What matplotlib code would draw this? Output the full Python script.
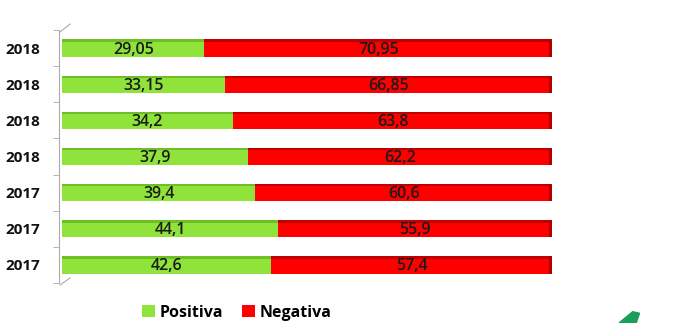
import numpy as np
import matplotlib.pyplot as plt
from matplotlib.patches import Polygon
from matplotlib.lines import Line2D

anni = ["2018", "2018", "2018", "2018", "2017", "2017", "2017"]
positiva = [29.05, 33.15, 34.2, 37.9, 39.4, 44.1, 42.6]
negativa = [70.95, 66.85, 63.8, 62.2, 60.6, 55.9, 57.4]
etich_pos = ["29,05", "33,15", "34,2", "37,9", "39,4", "44,1", "42,6"]
etich_neg = ["70,95", "66,85", "63,8", "62,2", "60,6", "55,9", "57,4"]

verde = "#8FE33B"
rosso = "#FF0000"

plt.rcParams["font.family"] = ["Open Sans", "DejaVu Sans"]

# grafico a barre in pila al 100%
pos = np.array(positiva)
neg = np.array(negativa)
tot = pos + neg
pos_pc = pos / tot * 100
neg_pc = neg / tot * 100

fig = plt.figure(figsize=(6.84, 3.23), dpi=100)
ax = fig.add_axes([0.0906, 0.124, 0.717, 0.783])

y = np.arange(len(anni))
h = 0.48
ax.barh(y, pos_pc, height=h, color=verde, label="Positiva")
ax.barh(y, neg_pc, left=pos_pc, height=h, color=rosso, label="Negativa")
# bordo superiore piu scuro (effetto 3d)
ax.barh(y - h / 2 + 0.035, pos_pc, height=0.07, color="#6DBF25")
ax.barh(y - h / 2 + 0.035, neg_pc, left=pos_pc, height=0.07, color="#C00000")
ax.barh(y, [0.6] * len(y), left=99.4, height=h, color="#B00000")

for i in range(len(anni)):
    ax.text(pos_pc[i] / 2, y[i] + 0.04, etich_pos[i], ha="center", va="center",
            fontsize=11.5, color="#1a1a1a", fontweight="semibold")
    ax.text(pos_pc[i] + neg_pc[i] / 2, y[i] + 0.04, etich_neg[i], ha="center",
            va="center", fontsize=11.5, color="#1a1a1a", fontweight="semibold")

for s in ["top", "right", "bottom"]:
    ax.spines[s].set_visible(False)
ax.spines["left"].set_color("#aaaaaa")
ax.spines["left"].set_position(("outward", 2))

ax.set_xlim(0, 100)
ax.set_ylim(len(anni) - 0.5, -0.5)
ax.set_xticks([])
ax.set_yticks(np.arange(-0.5, len(anni), 1), minor=True)
ax.tick_params(axis="y", which="major", length=0, pad=14)
ax.tick_params(axis="y", which="minor", length=4, color="#aaaaaa", direction="out")
ax.set_yticks(y)
ax.set_yticklabels(anni, fontweight="bold", fontsize=11, color="#111111")

# piccole diagonali prospettiche dell'asse
fig.add_artist(Line2D([60 / 684, 70 / 684], [1 - 32 / 323, 1 - 24 / 323], color="#aaaaaa", lw=0.8))
fig.add_artist(Line2D([60 / 684, 70 / 684], [1 - 285 / 323, 1 - 278 / 323], color="#aaaaaa", lw=0.8))

ax.legend(loc="upper center", bbox_to_anchor=(0.357, -0.03), ncol=2, frameon=False,
          prop={"weight": "bold", "size": 11.5}, handlelength=0.8, handleheight=0.8,
          handletextpad=0.3, columnspacing=1.2)

# frammento di freccia verde in basso a destra
fig.patches.append(Polygon([[0.905, 0.0], [0.925, 0.035], [0.935, 0.03], [0.93, 0.0]],
                           closed=True, transform=fig.transFigure, color="#1a9e5a"))

fig.savefig("out.png", dpi=100)
